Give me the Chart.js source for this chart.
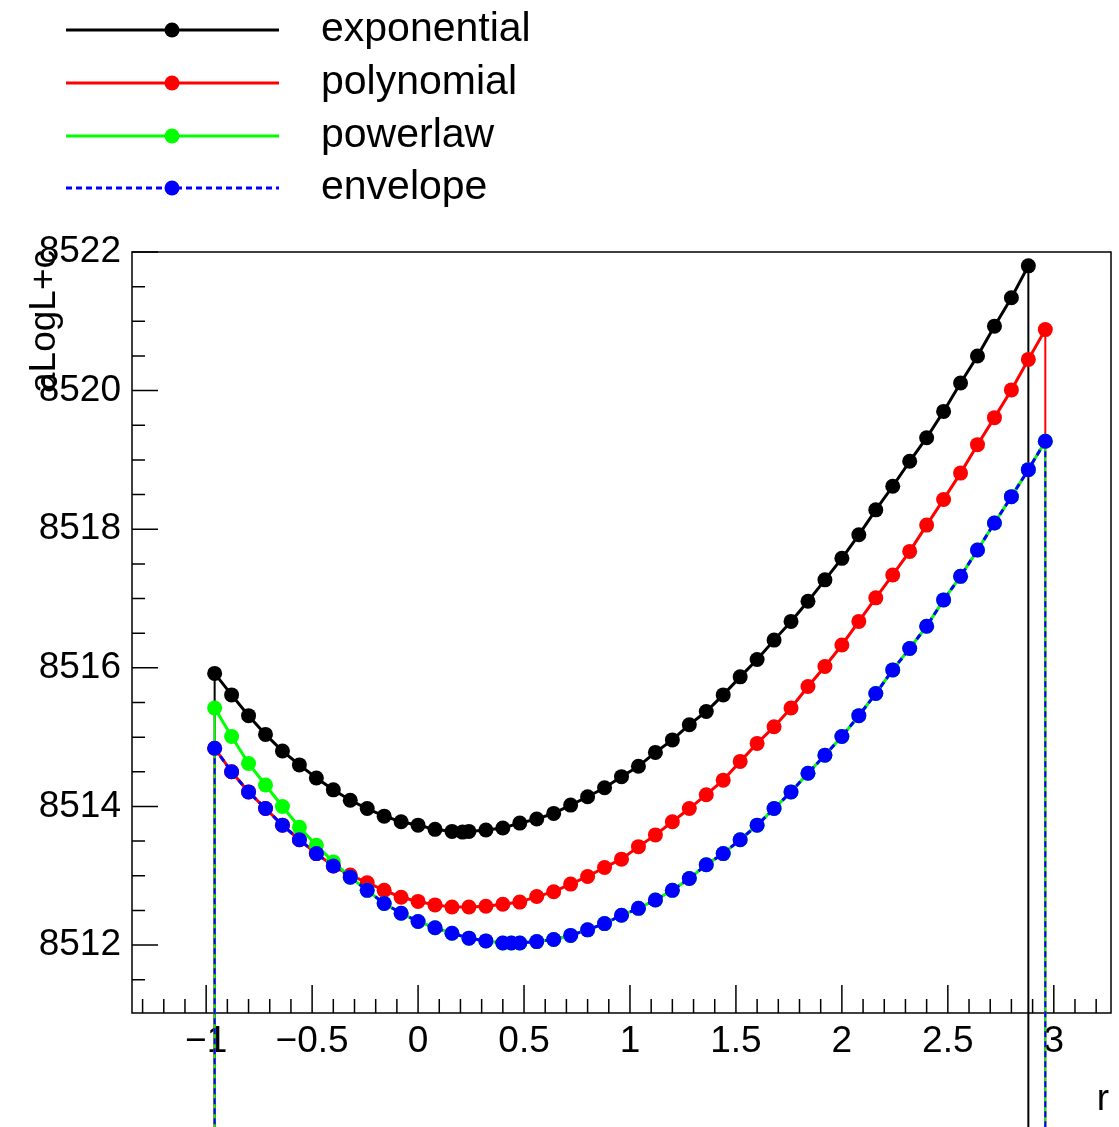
<!DOCTYPE html>
<html>
<head>
<meta charset="utf-8">
<script src="https://cdn.jsdelivr.net/npm/chart.js@4/dist/chart.umd.min.js"></script>
<style>
  html, body { margin: 0; padding: 0; background: #fff; overflow: hidden; }
  canvas { display: block; }
</style>
</head>
<body>
<canvas id="scan" width="1119" height="1127"></canvas>
<script>
// ---- likelihood scan values: r versus aLogL+c for each background function ----
const rExponential = [-0.96, -0.88, -0.80, -0.72, -0.64, -0.56, -0.48, -0.40, -0.32, -0.24,
  -0.16, -0.08, 0.00, 0.08, 0.16, 0.21, 0.24, 0.32, 0.40, 0.48, 0.56, 0.64, 0.72, 0.80, 0.88,
  0.96, 1.04, 1.12, 1.20, 1.28, 1.36, 1.44, 1.52, 1.60, 1.68, 1.76, 1.84, 1.92, 2.00, 2.08,
  2.16, 2.24, 2.32, 2.40, 2.48, 2.56, 2.64, 2.72, 2.80, 2.88];
const nllExponential = [8515.92, 8515.61, 8515.31, 8515.04, 8514.80, 8514.60, 8514.41, 8514.24,
  8514.09, 8513.97, 8513.86, 8513.78, 8513.73, 8513.67, 8513.64, 8513.63, 8513.64, 8513.66,
  8513.69, 8513.76, 8513.82, 8513.90, 8514.02, 8514.14, 8514.27, 8514.43, 8514.58, 8514.78,
  8514.96, 8515.18, 8515.37, 8515.61, 8515.87, 8516.12, 8516.40, 8516.67, 8516.96, 8517.27,
  8517.58, 8517.92, 8518.28, 8518.62, 8518.98, 8519.32, 8519.70, 8520.11, 8520.50, 8520.93,
  8521.34, 8521.80];

const rPolynomial = [-0.96, -0.88, -0.80, -0.72, -0.64, -0.56, -0.48, -0.40, -0.32, -0.24,
  -0.16, -0.08, 0.00, 0.08, 0.16, 0.24, 0.32, 0.40, 0.48, 0.56, 0.64, 0.72, 0.80, 0.88, 0.96,
  1.04, 1.12, 1.20, 1.28, 1.36, 1.44, 1.52, 1.60, 1.68, 1.76, 1.84, 1.92, 2.00, 2.08, 2.16,
  2.24, 2.32, 2.40, 2.48, 2.56, 2.64, 2.72, 2.80, 2.88, 2.96];
const nllPolynomial = [8514.84, 8514.50, 8514.21, 8513.97, 8513.73, 8513.52, 8513.32, 8513.14,
  8513.01, 8512.90, 8512.79, 8512.69, 8512.63, 8512.58, 8512.55, 8512.55, 8512.56, 8512.59,
  8512.62, 8512.70, 8512.77, 8512.88, 8512.99, 8513.12, 8513.24, 8513.42, 8513.59, 8513.78,
  8513.97, 8514.17, 8514.38, 8514.65, 8514.91, 8515.15, 8515.42, 8515.73, 8516.02, 8516.33,
  8516.67, 8517.01, 8517.34, 8517.68, 8518.06, 8518.43, 8518.81, 8519.22, 8519.61, 8520.01,
  8520.45, 8520.88];

const rPowerlaw = [-0.96, -0.88, -0.80, -0.72, -0.64, -0.56, -0.48, -0.40, -0.32, -0.24,
  -0.16, -0.08, 0.00, 0.08, 0.16, 0.24, 0.32, 0.40, 0.44, 0.48, 0.56, 0.64, 0.72, 0.80, 0.88,
  0.96, 1.04, 1.12, 1.20, 1.28, 1.36, 1.44, 1.52, 1.60, 1.68, 1.76, 1.84, 1.92, 2.00, 2.08,
  2.16, 2.24, 2.32, 2.40, 2.48, 2.56, 2.64, 2.72, 2.80, 2.88, 2.96];
const nllPowerlaw = [8515.42, 8515.01, 8514.62, 8514.31, 8514.00, 8513.70, 8513.44, 8513.20,
  8512.98, 8512.79, 8512.60, 8512.46, 8512.34, 8512.25, 8512.17, 8512.10, 8512.06, 8512.03,
  8512.03, 8512.03, 8512.05, 8512.08, 8512.14, 8512.22, 8512.31, 8512.43, 8512.53, 8512.65,
  8512.79, 8512.96, 8513.16, 8513.32, 8513.52, 8513.73, 8513.97, 8514.21, 8514.48, 8514.74,
  8515.01, 8515.31, 8515.63, 8515.97, 8516.28, 8516.60, 8516.98, 8517.32, 8517.70, 8518.09,
  8518.47, 8518.86, 8519.27];

const rEnvelope = [-0.96, -0.88, -0.80, -0.72, -0.64, -0.56, -0.48, -0.40, -0.32, -0.24,
  -0.16, -0.08, 0.00, 0.08, 0.16, 0.24, 0.32, 0.40, 0.44, 0.48, 0.56, 0.64, 0.72, 0.80, 0.88,
  0.96, 1.04, 1.12, 1.20, 1.28, 1.36, 1.44, 1.52, 1.60, 1.68, 1.76, 1.84, 1.92, 2.00, 2.08,
  2.16, 2.24, 2.32, 2.40, 2.48, 2.56, 2.64, 2.72, 2.80, 2.88, 2.96];
const nllEnvelope = [8514.84, 8514.50, 8514.21, 8513.97, 8513.73, 8513.52, 8513.32, 8513.14,
  8512.98, 8512.79, 8512.60, 8512.46, 8512.34, 8512.25, 8512.17, 8512.10, 8512.06, 8512.03,
  8512.03, 8512.03, 8512.05, 8512.08, 8512.14, 8512.22, 8512.31, 8512.43, 8512.53, 8512.65,
  8512.79, 8512.96, 8513.16, 8513.32, 8513.52, 8513.73, 8513.97, 8514.21, 8514.48, 8514.74,
  8515.01, 8515.31, 8515.63, 8515.97, 8516.28, 8516.60, 8516.98, 8517.32, 8517.70, 8518.09,
  8518.47, 8518.86, 8519.27];

const seriesNames = ['exponential', 'polynomial', 'powerlaw', 'envelope'];
const xTickValues = [-1, -0.5, 0, 0.5, 1, 1.5, 2, 2.5, 3];
const yTickValues = [8512, 8514, 8516, 8518, 8520, 8522];
const xTitle = 'r';
const yTitle = 'aLogL+c';

// ---- drawing ----
const FONT = '"Liberation Sans", Arial, Helvetica, sans-serif';
const styles = [
  { color: '#000000', dash: [] },
  { color: '#ff0000', dash: [] },
  { color: '#00ff00', dash: [] },
  { color: '#0000ff', dash: [6, 4] }
];
const xs = [rExponential, rPolynomial, rPowerlaw, rEnvelope];
const ys = [nllExponential, nllPolynomial, nllPowerlaw, nllEnvelope];

const datasets = seriesNames.map((name, i) => ({
  label: name,
  data: xs[i].map((r, j) => ({ x: r, y: ys[i][j] })),
  borderColor: styles[i].color,
  backgroundColor: styles[i].color,
  borderWidth: 3,
  borderDash: styles[i].dash,
  pointRadius: 7.5,
  pointHoverRadius: 7.5,
  pointBorderWidth: 0,
  pointBackgroundColor: styles[i].color,
  tension: 0,
  clip: false,
  order: seriesNames.length - i   // later series painted on top
}));

const fmtX = v => (v < 0 ? '\u2212' + Math.abs(v) : String(v));

// frame and inward tick marks (major and minor) on the bottom and left axes
const frameAxes = {
  id: 'frameAxes',
  beforeDatasetsDraw(chart) {
    const { ctx, chartArea: a, scales: { x, y } } = chart;
    ctx.save();
    ctx.strokeStyle = '#000';
    ctx.lineWidth = 1.5;
    ctx.strokeRect(a.left, a.top, a.right - a.left, a.bottom - a.top);
    ctx.beginPath();
    for (let i = -20; i <= 40; i++) {
      const v = i / 10;
      const px = x.getPixelForValue(v);
      if (px <= a.left + 1 || px >= a.right - 1) continue;
      const len = (i % 5 === 0) ? 28 : 14;
      ctx.moveTo(px, a.bottom);
      ctx.lineTo(px, a.bottom - len);
    }
    for (let i = 0; i <= 30; i++) {
      const v = 8510 + i * 0.5;
      const py = y.getPixelForValue(v);
      if (py < a.top - 0.5 || py >= a.bottom - 1) continue;
      const len = (i % 4 === 0) ? 26 : 13;
      ctx.moveTo(a.left, py);
      ctx.lineTo(a.left + len, py);
    }
    ctx.stroke();
    ctx.restore();
  }
};

// each graph closes at its first and last scan points with a vertical drop
const dropLines = {
  id: 'dropLines',
  beforeDatasetDraw(chart, args) {
    const pts = args.meta.data;
    if (!pts.length) return;
    const ds = chart.data.datasets[args.index];
    const ctx = chart.ctx;
    ctx.save();
    ctx.strokeStyle = ds.borderColor;
    ctx.lineWidth = 2;
    ctx.setLineDash(ds.borderDash || []);
    [pts[0], pts[pts.length - 1]].forEach(p => {
      ctx.beginPath();
      ctx.moveTo(p.x, p.y);
      ctx.lineTo(p.x, chart.height);
      ctx.stroke();
    });
    ctx.restore();
  }
};

// axis titles and legend block
const titlesLegend = {
  id: 'titlesLegend',
  afterDraw(chart) {
    const { ctx, chartArea: a } = chart;
    ctx.save();
    ctx.fillStyle = '#000';
    ctx.font = '37px ' + FONT;
    ctx.textAlign = 'right';
    ctx.textBaseline = 'alphabetic';
    ctx.fillText(xTitle, a.right - 2, 1110);

    ctx.save();
    ctx.translate(55, a.top - 2);
    ctx.rotate(-Math.PI / 2);
    ctx.textAlign = 'right';
    ctx.fillText(yTitle, 0, 0);
    ctx.restore();

    const rows = [30, 83, 136, 188];
    seriesNames.forEach((name, i) => {
      const yy = rows[i];
      ctx.strokeStyle = styles[i].color;
      ctx.lineWidth = 3;
      ctx.setLineDash(styles[i].dash);
      ctx.beginPath();
      ctx.moveTo(66, yy);
      ctx.lineTo(279, yy);
      ctx.stroke();
      ctx.setLineDash([]);
      ctx.fillStyle = styles[i].color;
      ctx.beginPath();
      ctx.arc(172, yy, 7.5, 0, Math.PI * 2);
      ctx.fill();
      ctx.fillStyle = '#000';
      ctx.font = '41px ' + FONT;
      ctx.textAlign = 'left';
      ctx.textBaseline = 'middle';
      ctx.fillText(name, 321, yy);
    });
    ctx.restore();
  }
};

new Chart(document.getElementById('scan'), {
  type: 'line',
  data: { datasets },
  options: {
    responsive: false,
    animation: false,
    devicePixelRatio: 1,
    events: [],
    layout: { padding: { top: 252, right: 8, left: 0, bottom: 0 } },
    plugins: { legend: { display: false }, tooltip: { enabled: false } },
    scales: {
      x: {
        type: 'linear',
        min: -1.35,
        max: 3.27,
        grid: { display: false, drawTicks: false },
        border: { display: false },
        afterFit(s) { s.height = 114; },
        afterBuildTicks(s) { s.ticks = xTickValues.map(v => ({ value: v })); },
        ticks: {
          color: '#000',
          font: { family: FONT, size: 37 },
          padding: 7,
          maxRotation: 0,
          autoSkip: false,
          callback: v => fmtX(v)
        }
      },
      y: {
        type: 'linear',
        min: 8511.02,
        max: 8522.0,
        grid: { display: false, drawTicks: false },
        border: { display: false },
        afterFit(s) { s.width = 132; },
        afterBuildTicks(s) { s.ticks = yTickValues.map(v => ({ value: v })); },
        ticks: {
          color: '#000',
          font: { family: FONT, size: 37 },
          padding: 11,
          autoSkip: false,
          callback: v => String(v)
        }
      }
    }
  },
  plugins: [frameAxes, dropLines, titlesLegend]
});
</script>
</body>
</html>
